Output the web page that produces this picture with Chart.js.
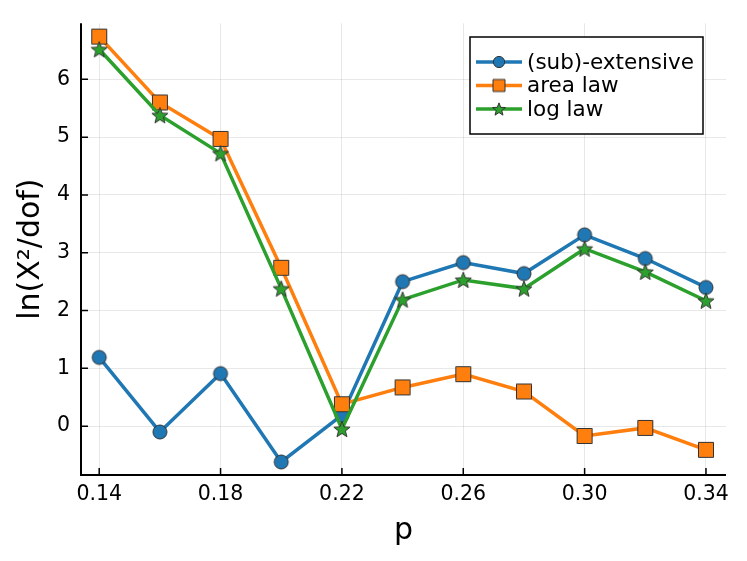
<!DOCTYPE html>
<html>
<head>
<meta charset="utf-8">
<script src="https://cdn.jsdelivr.net/npm/chart.js@4.4.1/dist/chart.umd.min.js"></script>
<style>
  html, body { margin: 0; padding: 0; background: #fff; }
  #wrap { width: 747px; height: 561px; }
</style>
</head>
<body>
<div id="wrap"><canvas id="fitChart" width="747" height="561"></canvas></div>
<script>
"use strict";

/* ── data ── */
const pValues = [0.14, 0.16, 0.18, 0.20, 0.22, 0.24, 0.26, 0.28, 0.30, 0.32, 0.34];
const subExtensive = [1.19, -0.10, 0.91, -0.62, 0.19, 2.50, 2.83, 2.64, 3.31, 2.90, 2.40];
const areaLaw = [6.74, 5.60, 4.97, 2.74, 0.38, 0.67, 0.90, 0.60, -0.17, -0.03, -0.41];
const logLaw = [6.52, 5.38, 4.72, 2.38, -0.05, 2.19, 2.53, 2.38, 3.07, 2.67, 2.17];
const xTicks = [0.14, 0.18, 0.22, 0.26, 0.30, 0.34];
const yTicks = [0, 1, 2, 3, 4, 5, 6];
const seriesLabels = ["(sub)-extensive", "area law", "log law"];

const FONT = "DejaVu Sans";
const EDGE = "#333333";

/* ── marker canvases (used as pointStyle) ── */
function makeMarker(kind, color, k) {
  const s = Math.round(20 * k), m = s / 2;
  const c = document.createElement("canvas");
  c.width = s; c.height = s;
  const g = c.getContext("2d");
  g.fillStyle = color;
  g.strokeStyle = EDGE;
  g.lineWidth = 1;
  g.beginPath();
  if (kind === "circle") {
    g.arc(m, m, 7 * k, 0, Math.PI * 2);
  } else if (kind === "square") {
    g.rect(m - 7.5 * k, m - 7.5 * k, 15 * k, 15 * k);
  } else {
    const R = 8.5 * k, r = 3.6 * k;
    for (let i = 0; i < 10; i++) {
      const a = -Math.PI / 2 + (i * Math.PI) / 5;
      const rr = i % 2 === 0 ? R : r;
      const px = m + rr * Math.cos(a), py = m + 0.8 * k + rr * Math.sin(a);
      if (i === 0) g.moveTo(px, py); else g.lineTo(px, py);
    }
    g.closePath();
  }
  g.fill();
  g.stroke();
  return c;
}

const colors = ["#1f77b4", "#ff7f0e", "#2ca02c"];
const kinds = ["circle", "square", "star"];
const markers = kinds.map((k, i) => makeMarker(k, colors[i], 1));
const legendMarkers = kinds.map((k, i) => makeMarker(k, colors[i], 0.8));

function toXY(arr) {
  return arr.map((v, i) => ({ x: pValues[i], y: v }));
}

/* ── inward ticks, spines and legend ── */
const framePlugin = {
  id: "frame",
  afterDatasetsDraw(chart) {
    const { ctx, chartArea: a, scales } = chart;
    ctx.save();
    ctx.strokeStyle = "#000";
    ctx.lineWidth = 1.5;
    ctx.beginPath();
    xTicks.forEach((t) => {
      const px = scales.x.getPixelForValue(t);
      ctx.moveTo(px, a.bottom);
      ctx.lineTo(px, a.bottom - 7);
    });
    yTicks.forEach((t) => {
      const py = scales.y.getPixelForValue(t);
      ctx.moveTo(a.left, py);
      ctx.lineTo(a.left + 7, py);
    });
    ctx.stroke();
    ctx.lineWidth = 2;
    ctx.beginPath();
    ctx.moveTo(a.left, a.top);
    ctx.lineTo(a.left, a.bottom);
    ctx.lineTo(a.right, a.bottom);
    ctx.stroke();

    // legend box
    const bx = 470, by = 37, bw = 233, bh = 97;
    ctx.fillStyle = "#fff";
    ctx.fillRect(bx, by, bw, bh);
    ctx.lineWidth = 1.5;
    ctx.strokeStyle = "#000";
    ctx.strokeRect(bx, by, bw, bh);
    ctx.font = "21.5px '" + FONT + "'";
    ctx.textBaseline = "middle";
    chart.data.datasets.forEach((ds, i) => {
      const y = 62 + i * 23.5;
      ctx.strokeStyle = ds.borderColor;
      ctx.lineWidth = 3.5;
      ctx.beginPath();
      ctx.moveTo(476, y);
      ctx.lineTo(522, y);
      ctx.stroke();
      const lm = legendMarkers[i];
      ctx.drawImage(lm, 499 - lm.width / 2, y - lm.height / 2);
      ctx.fillStyle = "#000";
      ctx.fillText(ds.label, 527, y + 1);
    });
    ctx.restore();
  },
};

const seriesData = [subExtensive, areaLaw, logLaw];

new Chart(document.getElementById("fitChart"), {
  type: "line",
  data: {
    datasets: seriesData.map((vals, i) => ({
      label: seriesLabels[i],
      data: toXY(vals),
      borderColor: colors[i],
      backgroundColor: colors[i],
      borderWidth: 3.5,
      pointStyle: markers[i],
      pointRadius: 8,
      tension: 0,
      order: 3 - i,
    })),
  },
  options: {
    responsive: false,
    animation: false,
    devicePixelRatio: 1,
    layout: { padding: { left: 0, right: 21, top: 22, bottom: 0 } },
    plugins: { legend: { display: false }, tooltip: { enabled: false } },
    scales: {
      x: {
        type: "linear",
        min: 0.134,
        max: 0.3466,
        afterBuildTicks: (s) => { s.ticks = xTicks.map((v) => ({ value: v })); },
        afterFit: (s) => { s.height = 86; },
        border: { display: false },
        grid: { color: "rgba(0,0,0,0.09)", lineWidth: 1, drawTicks: false },
        ticks: {
          padding: 7,
          color: "#000",
          font: { family: FONT, size: 20.5 },
          maxRotation: 0,
          callback: (v) => v.toFixed(2),
        },
        title: {
          display: true,
          text: "p",
          color: "#000",
          font: { family: FONT, size: 30 },
          padding: { top: 0, bottom: 12 },
        },
      },
      y: {
        min: -0.845,
        max: 6.97,
        afterBuildTicks: (s) => { s.ticks = yTicks.map((v) => ({ value: v })); },
        afterFit: (s) => { s.width = 81; },
        border: { display: false },
        grid: { color: "rgba(0,0,0,0.09)", lineWidth: 1, drawTicks: false },
        ticks: {
          padding: 11,
          color: "#000",
          font: { family: FONT, size: 20.5 },
          callback: (v) => String(v),
        },
        title: {
          display: true,
          text: "ln(X²/dof)",
          color: "#000",
          font: { family: FONT, size: 30 },
          padding: { top: 13, bottom: 0 },
        },
      },
    },
  },
  plugins: [framePlugin],
});
</script>
</body>
</html>
